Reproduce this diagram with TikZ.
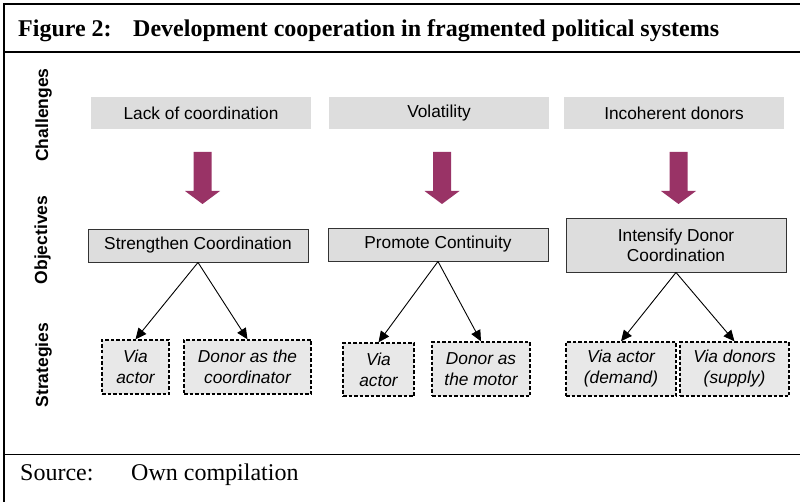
\documentclass[tikz,border=0pt]{standalone}
\usepackage{fontspec}
\setmainfont{Liberation Serif}
\setsansfont{Liberation Sans}
\usetikzlibrary{arrows.meta}
\definecolor{boxgray}{HTML}{DDDDDD}
\definecolor{stratgray}{HTML}{E8E8E8}
\definecolor{arrowred}{RGB}{153,51,102}
\definecolor{objborder}{HTML}{333333}
\tikzset{
  chal/.style={fill=boxgray, inner sep=0pt, minimum width=220pt, minimum height=32pt,
    font=\sffamily\fontsize{17.3}{20}\selectfont, anchor=center},
  obj/.style={fill=boxgray, draw=objborder, line width=0.9pt, inner sep=0pt, minimum width=220pt,
    minimum height=33pt, align=center, font=\sffamily\fontsize{17.3}{20}\selectfont, anchor=center},
  strat/.style={fill=stratgray, draw=black, line width=1.3pt, dash pattern=on 3.5pt off 2pt,
    inner sep=0pt, minimum height=54pt, align=center,
    font=\sffamily\itshape\fontsize{17.3}{21}\selectfont, anchor=center},
  rowlabel/.style={rotate=90, anchor=base, font=\sffamily\bfseries\fontsize{17.5}{20}\selectfont},
  conn/.style={draw=black, line width=0.9pt, -{Triangle[length=11pt,width=10pt]}},
  blockarrow/.style={fill=arrowred, draw=none},
  frameline/.style={line width=1.8pt, draw=black},
  serifbig/.style={anchor=base west, inner sep=0pt, font=\fontsize{24}{28}\selectfont},
}
\begin{document}
\begin{tikzpicture}[x=1pt, y=-1pt]
\useasboundingbox (0,0) rectangle (800,502);
% frame
\draw[frameline] (4,510) -- (4,4) -- (810,4);
\draw[frameline] (4,52) -- (810,52);
\draw[frameline] (4,454.5) -- (810,454.5);
% title
\node[serifbig, font=\bfseries\fontsize{24}{28}\selectfont] (figno) at (18,37) {Figure 2:};
\node[serifbig, font=\bfseries\fontsize{24}{28}\selectfont] (title) at (133,37) {Development cooperation in fragmented political systems};
% source
\node[serifbig] (src) at (20,480) {Source:};
\node[serifbig] (srctxt) at (131,480) {Own compilation};
% row labels
\node[rowlabel] (lchal) at (48,115) {Challenges};
\node[rowlabel] (lobj) at (47,240) {Objectives};
\node[rowlabel] (lstrat) at (48,365) {Strategies};
% challenges
\node[chal] (c1) at (201,113) {Lack of coordination};
\node[chal] (c2) at (439,113) {Volatility};
\node[chal] (c3) at (674,113) {Incoherent donors};
% block arrows
\foreach \cx in {202.5,442,678.5}{
  \fill[blockarrow] (\cx-9,152) -- (\cx+9,152) -- (\cx+9,191) -- (\cx+17.5,191) -- (\cx,204)
     -- (\cx-17.5,191) -- (\cx-9,191) -- cycle;
}
% objectives
\node[obj] (o1) at (198,245.5) {Strengthen Coordination};
\node[obj] (o2) at (438,244.5) {Promote Continuity};
\node[obj, minimum height=54pt] (o3) at (676,245) {Intensify Donor\\Coordination};
% strategies
\node[strat, minimum width=67pt] (s1a) at (135.5,367) {Via\\actor};
\node[strat, minimum width=127pt] (s1b) at (247.5,367) {Donor as the\\coordinator};
\node[strat, minimum width=71pt, minimum height=53pt] (s2a) at (378.5,369.5) {Via\\actor};
\node[strat, minimum width=98pt] (s2b) at (481,369) {Donor as\\the motor};
\node[strat, minimum width=110pt] (s3a) at (621,369) {Via actor\\(demand)};
\node[strat, minimum width=109pt] (s3b) at (734.5,369) {Via donors\\(supply)};
% connectors
\draw[conn] (o1.south) -- (s1a.north);
\draw[conn] (o1.south) -- (s1b.north);
\draw[conn] (o2.south) -- (s2a.north);
\draw[conn] (o2.south) -- (s2b.north);
\draw[conn] (o3.south) -- (s3a.north);
\draw[conn] (o3.south) -- (s3b.north);
\end{tikzpicture}
\end{document}
